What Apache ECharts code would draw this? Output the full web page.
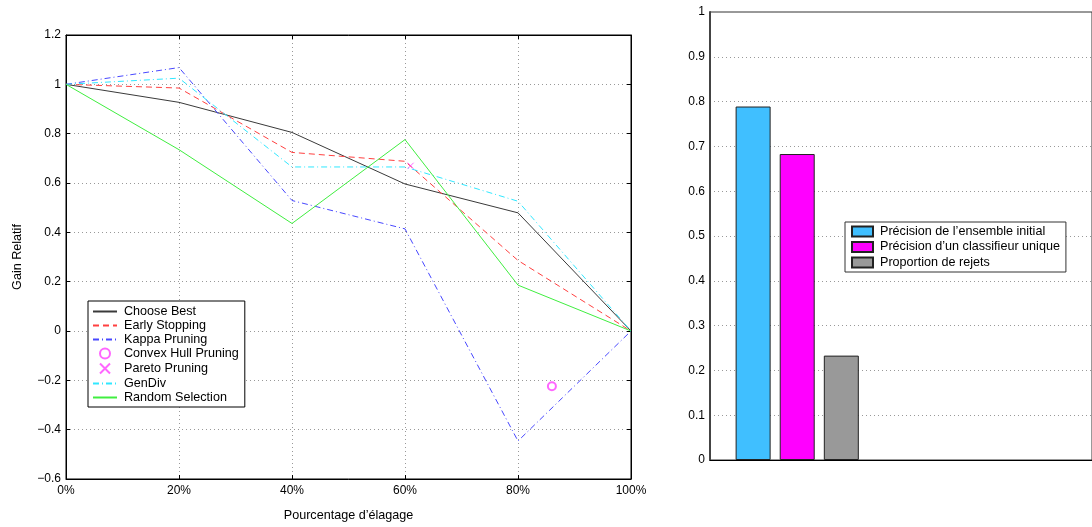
<!DOCTYPE html>
<html><head><meta charset="utf-8">
<script src="https://cdn.jsdelivr.net/npm/echarts@6/dist/echarts.min.js"></script>
<style>html,body{margin:0;padding:0;background:#fff}#c{width:1092px;height:527px}</style>
</head><body><div id="c"></div>
<script>
// ---- Left chart data ----
const pruningPct = [0, 20, 40, 60, 80, 100];
const chooseBest    = [1.0, 0.927, 0.805, 0.596, 0.479, 0];
const earlyStopping = [1.0, 0.985, 0.724, 0.688, 0.286, 0];
const kappaPruning  = [1.0, 1.068, 0.529, 0.414, -0.446, 0];
const genDiv        = [1.0, 1.025, 0.665, 0.665, 0.526, 0];
const randomSel     = [1.0, 0.735, 0.436, 0.776, 0.186, 0];
const convexHullPct = [86];
const convexHullVal = [-0.224];
const paretoPct     = [61];
const paretoVal     = [0.670];
const lineNames = ['Choose Best', 'Early Stopping', 'Kappa Pruning', 'Convex Hull Pruning', 'Pareto Pruning', 'GenDiv', 'Random Selection'];

// ---- Right chart data ----
const barNames  = ['Précision de l’ensemble initial', 'Précision d’un classifieur unique', 'Proportion de rejets'];
const barValues = [0.789, 0.683, 0.233];
const barGroup  = 1;

const FONT = '"Liberation Sans", Arial, Helvetica, sans-serif';
const zip = (xs, ys) => xs.map((x, i) => [x, ys[i]]);
const fmtNum = v => { const r = Math.round(v * 10) / 10; return r < 0 ? '\u2212' + Math.abs(r) : String(r); };

const dotted = { show: true, lineStyle: { color: '#999', type: [1, 3], width: 1 } };
const lbl = { fontFamily: FONT, fontSize: 12, color: '#000' };

const chart = echarts.init(document.getElementById('c'), null, { renderer: 'canvas' });

const mkLine = (name, data, color, type) => ({
  name, type: 'line', xAxisIndex: 0, yAxisIndex: 0, data: zip(pruningPct, data),
  symbol: 'none', lineStyle: { color, width: 1, type }, itemStyle: { color },
  z: 3, animation: false
});

const scatterNames = ['Convex Hull Pruning', 'Pareto Pruning'];
const barColors = ['#40bfff', '#ff00ff', '#999999'];
const legendTxt = { fontFamily: FONT, fontSize: 12.6, color: '#000', padding: [0, 0, 0, 2] };

chart.setOption({
  animation: false,
  backgroundColor: '#fff',
  grid: [
    { left: 66, right: 461, top: 35, bottom: 47, show: true, borderColor: '#000', borderWidth: 1 },
    { left: 710, right: -2, top: 12, bottom: 67, show: true, borderColor: '#333', borderWidth: 1 }
  ],
  xAxis: [
    { gridIndex: 0, type: 'value', position: 'bottom', min: 0, max: 100, interval: 20,
      axisLine: { show: true, onZero: false, lineStyle: { color: '#000', width: 1 } },
      axisTick: { show: true, inside: true, length: 4, lineStyle: { color: '#000' } },
      axisLabel: Object.assign({ formatter: '{value}%', margin: 6 }, lbl),
      splitLine: dotted,
      name: 'Pourcentage d’élagage', nameLocation: 'middle', nameGap: 30,
      nameTextStyle: { fontFamily: FONT, fontSize: 12.6, color: '#000' } },
    { gridIndex: 0, type: 'value', position: 'top', min: 0, max: 100, interval: 20,
      axisLine: { show: true, onZero: false, lineStyle: { color: '#000', width: 1 } },
      axisTick: { show: true, inside: true, length: 4, lineStyle: { color: '#000' } },
      axisLabel: { show: false }, splitLine: { show: false } },
    { gridIndex: 1, type: 'value', position: 'bottom', min: 0.5, max: 2.69,
      axisLine: { show: true, onZero: false, lineStyle: { color: '#000', width: 1 } },
      axisTick: { show: false }, axisLabel: { show: false }, splitLine: { show: false } }
  ],
  yAxis: [
    { gridIndex: 0, type: 'value', position: 'left', min: -0.6, max: 1.2, interval: 0.2,
      axisLine: { show: true, onZero: false, lineStyle: { color: '#000', width: 1 } },
      axisTick: { show: true, inside: true, length: 4, lineStyle: { color: '#000' } },
      axisLabel: Object.assign({ formatter: fmtNum, margin: 5 }, lbl),
      splitLine: dotted,
      name: 'Gain Relatif', nameLocation: 'middle', nameGap: 42, nameRotate: 90,
      nameTextStyle: { fontFamily: FONT, fontSize: 12.6, color: '#000' } },
    { gridIndex: 0, type: 'value', position: 'right', min: -0.6, max: 1.2, interval: 0.2,
      axisLine: { show: true, onZero: false, lineStyle: { color: '#000', width: 1 } },
      axisTick: { show: true, inside: true, length: 4, lineStyle: { color: '#000' } },
      axisLabel: { show: false }, splitLine: { show: false } },
    { gridIndex: 1, type: 'value', position: 'left', min: 0, max: 1, interval: 0.1,
      axisLine: { show: true, onZero: false, lineStyle: { color: '#444', width: 2 } },
      axisTick: { show: false },
      axisLabel: Object.assign({ formatter: fmtNum, margin: 5 }, lbl),
      splitLine: dotted }
  ],
  legend: [
    { data: lineNames.map(n => scatterNames.includes(n) ? { name: n } : { name: n, itemStyle: { opacity: 0 } }),
      orient: 'vertical', left: 88, top: 301,
      padding: [4, 6, 3, 4], itemGap: 1, itemWidth: 24, itemHeight: 10,
      borderColor: '#000', borderWidth: 1, backgroundColor: '#fff', borderRadius: 0,
      textStyle: legendTxt },
    { data: barNames, orient: 'vertical', left: 845, top: 222, icon: 'rect',
      padding: [3, 6, 3, 6], itemGap: 2.5, itemWidth: 21, itemHeight: 10,
      borderColor: '#333', borderWidth: 1, backgroundColor: '#fff', borderRadius: 0,
      textStyle: legendTxt }
  ],
  series: [
    mkLine(lineNames[0], chooseBest, '#3a3a3a', 'solid'),
    mkLine(lineNames[1], earlyStopping, '#ff4040', [6, 4]),
    mkLine(lineNames[2], kappaPruning, '#4848ff', [6, 3, 1, 3]),
    { name: lineNames[3], type: 'scatter', xAxisIndex: 0, yAxisIndex: 0,
      data: zip(convexHullPct, convexHullVal), symbol: 'emptyCircle', symbolSize: 8,
      itemStyle: { color: '#ff40ff', borderColor: '#ff40ff', borderWidth: 1 }, z: 4 },
    { name: lineNames[4], type: 'scatter', xAxisIndex: 0, yAxisIndex: 0,
      data: zip(paretoPct, paretoVal), symbol: 'path://M0,0L10,10M10,0L0,10', symbolSize: 6,
      itemStyle: { color: 'none', borderColor: '#ff40ff', borderWidth: 1 }, z: 4 },
    mkLine(lineNames[5], genDiv, '#30e8ff', [6, 3, 1, 3]),
    mkLine(lineNames[6], randomSel, '#40ee40', 'solid'),
    ...barNames.map((n, i) => ({
      name: n, type: 'bar', xAxisIndex: 2, yAxisIndex: 2,
      data: [[barGroup, barValues[i]]], barWidth: 35, barGap: '26%',
      itemStyle: { color: barColors[i], borderColor: '#222', borderWidth: 1 }
    }))
  ]
});
</script></body></html>
